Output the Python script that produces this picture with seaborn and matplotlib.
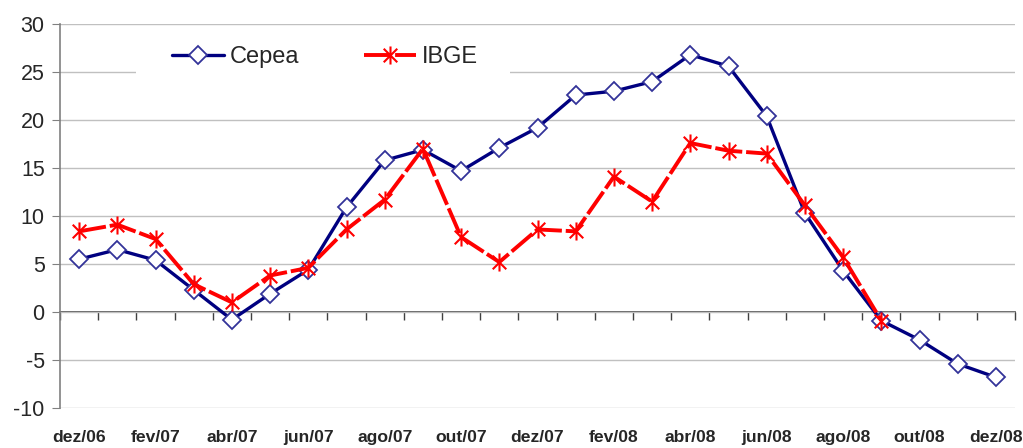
import numpy as np
import pandas as pd
import matplotlib
matplotlib.use("Agg")
import matplotlib.pyplot as plt
from matplotlib.path import Path
from matplotlib.lines import Line2D
from matplotlib.patches import Rectangle
import seaborn as sns

# --- Data ---
months = ["dez/06", "jan/07", "fev/07", "mar/07", "abr/07", "mai/07", "jun/07",
          "jul/07", "ago/07", "set/07", "out/07", "nov/07", "dez/07", "jan/08",
          "fev/08", "mar/08", "abr/08", "mai/08", "jun/08", "jul/08", "ago/08",
          "set/08", "out/08", "nov/08", "dez/08"]
cepea = [5.5, 6.5, 5.4, 2.3, -0.8, 1.9, 4.4, 10.9, 15.8, 16.9, 14.7, 17.1, 19.2,
         22.6, 23.0, 24.0, 26.8, 25.6, 20.4, 10.3, 4.3, -0.9, -2.9, -5.4, -6.8]
ibge = [8.4, 9.1, 7.6, 2.9, 1.0, 3.8, 4.6, 8.6, 11.7, 17.0, 7.8, 5.2, 8.6,
        8.4, 14.1, 11.5, 17.6, 16.8, 16.5, 11.1, 5.7, -0.9, np.nan, np.nan, np.nan]
yticks = [-10, -5, 0, 5, 10, 15, 20, 25, 30]

df = pd.DataFrame({"idx": range(len(months)), "mes": months,
                   "Cepea": cepea, "IBGE": ibge})

# --- Style ---
sns.set_style("white")
plt.rcParams["font.family"] = ["Liberation Sans", "DejaVu Sans"]

navy = "#000080"
red = "#ff0000"
grid_col = "#c0c0c0"
axis_col = "#808080"

# Excel-like star marker: X plus vertical bar
star = Path([(0, -1), (0, 1), (-0.75, -0.75), (0.75, 0.75), (-0.75, 0.75), (0.75, -0.75)],
            [Path.MOVETO, Path.LINETO, Path.MOVETO, Path.LINETO, Path.MOVETO, Path.LINETO])

fig = plt.figure(figsize=(10.23, 4.48), dpi=100)
ax = fig.add_axes([60 / 1023, 40 / 448, 955 / 1023, 384 / 448])

cepea_style = dict(color=navy, lw=2.4, marker="D", markersize=9.5,
                   markerfacecolor="white", markeredgecolor="#333399", markeredgewidth=1.3)
ibge_style = dict(color=red, lw=2.8, linestyle=(0, (7, 1)), marker=star, markersize=13,
                  markeredgecolor=red, markeredgewidth=1.5)

sns.lineplot(data=df, x="idx", y="Cepea", ax=ax, **cepea_style)
sns.lineplot(data=df, x="idx", y="IBGE", ax=ax, **ibge_style)

# --- Axes ---
ax.set_xlim(-0.5, len(months) - 0.5)
ax.set_ylim(-10, 30)
ax.set_yticks(yticks)
ax.set_yticklabels([str(v) for v in yticks], fontsize=15.5)
ax.yaxis.grid(True, color=grid_col, lw=1)
ax.set_axisbelow(True)

ax.set_xticks(df["idx"][::2])
ax.set_xticklabels(months[::2], fontsize=12.6, fontweight="bold")
ax.tick_params(axis="x", length=0, pad=16)
ax.tick_params(axis="y", direction="out", length=6, color=axis_col, left=True, pad=5)
ax.set_xlabel("")
ax.set_ylabel("")

for s in ["top", "right", "bottom"]:
    ax.spines[s].set_visible(False)
ax.spines["left"].set_color(axis_col)
ax.spines["left"].set_linewidth(1.2)

# category axis crossing at zero, with ticks between categories
zero_ax = ax.secondary_xaxis(10 / 40)
zero_ax.set_xticks(np.arange(-0.5, len(months), 1.0))
zero_ax.set_xticklabels([])
zero_ax.tick_params(axis="x", direction="out", length=6, color="#404040", width=1)
zero_ax.spines["bottom"].set_color("#404040")
zero_ax.spines["bottom"].set_linewidth(1.2)

# --- Legend (white box hides the gridline behind it, as in Excel) ---
ax.add_patch(Rectangle((136 / 1023, 1 - 84 / 448), 374 / 1023, 52 / 448,
                       transform=fig.transFigure, facecolor="white",
                       edgecolor="none", zorder=1))
handles = [Line2D([], [], **cepea_style), Line2D([], [], **ibge_style)]
leg = fig.legend(handles, ["Cepea", "IBGE"], loc="center", ncol=2,
                 bbox_to_anchor=(325 / 1023, 1 - 57 / 448), fontsize=17,
                 handlelength=2.2, handletextpad=0.25, columnspacing=2.75,
                 frameon=False, borderpad=0.3)

fig.savefig("out.png", dpi=100)
